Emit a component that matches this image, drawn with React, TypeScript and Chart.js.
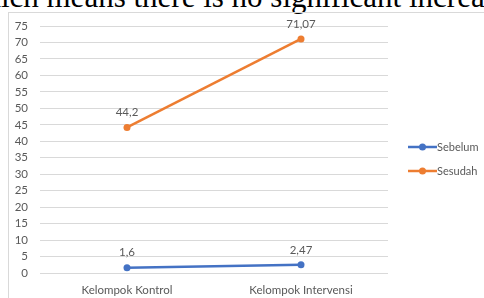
import React, { useEffect, useRef } from "react";
import { Chart, registerables } from "chart.js";

Chart.register(...registerables);

const categories = ["Kelompok Kontrol", "Kelompok Intervensi"];
const seriesNames = ["Sebelum", "Sesudah"];
const sebelumValues = [1.6, 2.47];
const sesudahValues = [44.2, 71.07];
const seriesColors = ["#4472C4", "#ED7D31"];
const yMin = 0;
const yMax = 75;
const yStep = 5;
const headingText = "which means there is no significant increase";

const FONT = "Lato, 'Open Sans', sans-serif";
const TEXT_COLOR = "#595959";

const formatValue = (v: number) => String(v).replace(".", ",");

const dataLabelPlugin = {
  id: "dataLabels",
  afterDatasetsDraw(chart: any) {
    const ctx = chart.ctx;
    ctx.save();
    ctx.font = `11.5px ${FONT}`;
    ctx.fillStyle = TEXT_COLOR;
    ctx.textAlign = "center";
    ctx.textBaseline = "middle";
    chart.data.datasets.forEach((ds: any, i: number) => {
      const meta = chart.getDatasetMeta(i);
      meta.data.forEach((pt: any, j: number) => {
        ctx.fillText(formatValue(ds.data[j]), pt.x, pt.y - 15);
      });
    });
    ctx.restore();
  },
};

const legendPlugin = {
  id: "sideLegend",
  afterDraw(chart: any) {
    const ctx = chart.ctx;
    const area = chart.chartArea;
    const x0 = area.right + 20;
    const yStart = 134;
    const gap = 24;
    ctx.save();
    chart.data.datasets.forEach((ds: any, i: number) => {
      const y = yStart + i * gap;
      ctx.strokeStyle = ds.borderColor;
      ctx.lineWidth = 2.5;
      ctx.beginPath();
      ctx.moveTo(x0, y);
      ctx.lineTo(x0 + 29, y);
      ctx.stroke();
      ctx.fillStyle = ds.borderColor;
      ctx.beginPath();
      ctx.arc(x0 + 14.5, y, 3.5, 0, Math.PI * 2);
      ctx.fill();
      ctx.font = `11px ${FONT}`;
      ctx.fillStyle = TEXT_COLOR;
      ctx.textAlign = "left";
      ctx.textBaseline = "middle";
      ctx.fillText(ds.label, x0 + 29, y);
    });
    ctx.restore();
  },
};

function LineChart() {
  const canvasRef = useRef<HTMLCanvasElement | null>(null);

  useEffect(() => {
    if (!canvasRef.current) return;
    const chart = new Chart(canvasRef.current, {
      type: "line",
      data: {
        labels: categories,
        datasets: [
          {
            label: seriesNames[0],
            data: sebelumValues,
            borderColor: seriesColors[0],
            backgroundColor: seriesColors[0],
            borderWidth: 2.5,
            pointRadius: 3.5,
            pointBorderWidth: 0,
            pointBackgroundColor: seriesColors[0],
            tension: 0,
          },
          {
            label: seriesNames[1],
            data: sesudahValues,
            borderColor: seriesColors[1],
            backgroundColor: seriesColors[1],
            borderWidth: 2.5,
            pointRadius: 3.5,
            pointBorderWidth: 0,
            pointBackgroundColor: seriesColors[1],
            tension: 0,
          },
        ],
      },
      options: {
        animation: false,
        responsive: false,
        maintainAspectRatio: false,
        devicePixelRatio: 1,
        layout: { padding: { left: 0, top: 13, right: 141, bottom: 0 } },
        plugins: {
          legend: { display: false },
          tooltip: { enabled: false },
        },
        scales: {
          x: {
            offset: true,
            grid: { display: false, drawTicks: false },
            border: { display: false },
            ticks: {
              color: TEXT_COLOR,
              font: { family: FONT, size: 11.5 },
              padding: 10,
              maxRotation: 0,
            },
            afterFit: (s: any) => {
              s.height = 25;
              s.paddingLeft = 0;
              s.paddingRight = 0;
            },
          },
          y: {
            min: yMin,
            max: yMax,
            grid: { color: "#d9d9d9", lineWidth: 1, drawTicks: false },
            border: { display: false },
            ticks: {
              stepSize: yStep,
              autoSkip: false,
              color: TEXT_COLOR,
              font: { family: FONT, size: 11.5 },
              padding: 12,
            },
            afterFit: (s: any) => {
              s.width = 31;
              s.paddingTop = 0;
              s.paddingBottom = 0;
            },
          },
        },
      },
      plugins: [dataLabelPlugin, legendPlugin],
    });
    return () => chart.destroy();
  }, []);

  return (
    <canvas
      ref={canvasRef}
      width={520}
      height={285}
      style={{ position: "absolute", left: 9, top: 13, width: 520, height: 285 }}
    />
  );
}

export default function App() {
  return (
    <div
      style={{
        position: "fixed",
        left: 0,
        top: 0,
        width: 484,
        height: 298,
        overflow: "hidden",
        background: "#ffffff",
      }}
    >
      <div
        style={{
          position: "absolute",
          left: -37,
          top: -19,
          whiteSpace: "nowrap",
          fontFamily: "'Liberation Serif', 'Times New Roman', serif",
          fontSize: 31,
          lineHeight: "31px",
          color: "#000",
        }}
      >
        {headingText}
      </div>
      <div
        style={{
          position: "absolute",
          left: 8,
          top: 12,
          width: 520,
          height: 320,
          border: "1px solid #d9d9d9",
          boxSizing: "border-box",
        }}
      />
      <LineChart />
    </div>
  );
}
